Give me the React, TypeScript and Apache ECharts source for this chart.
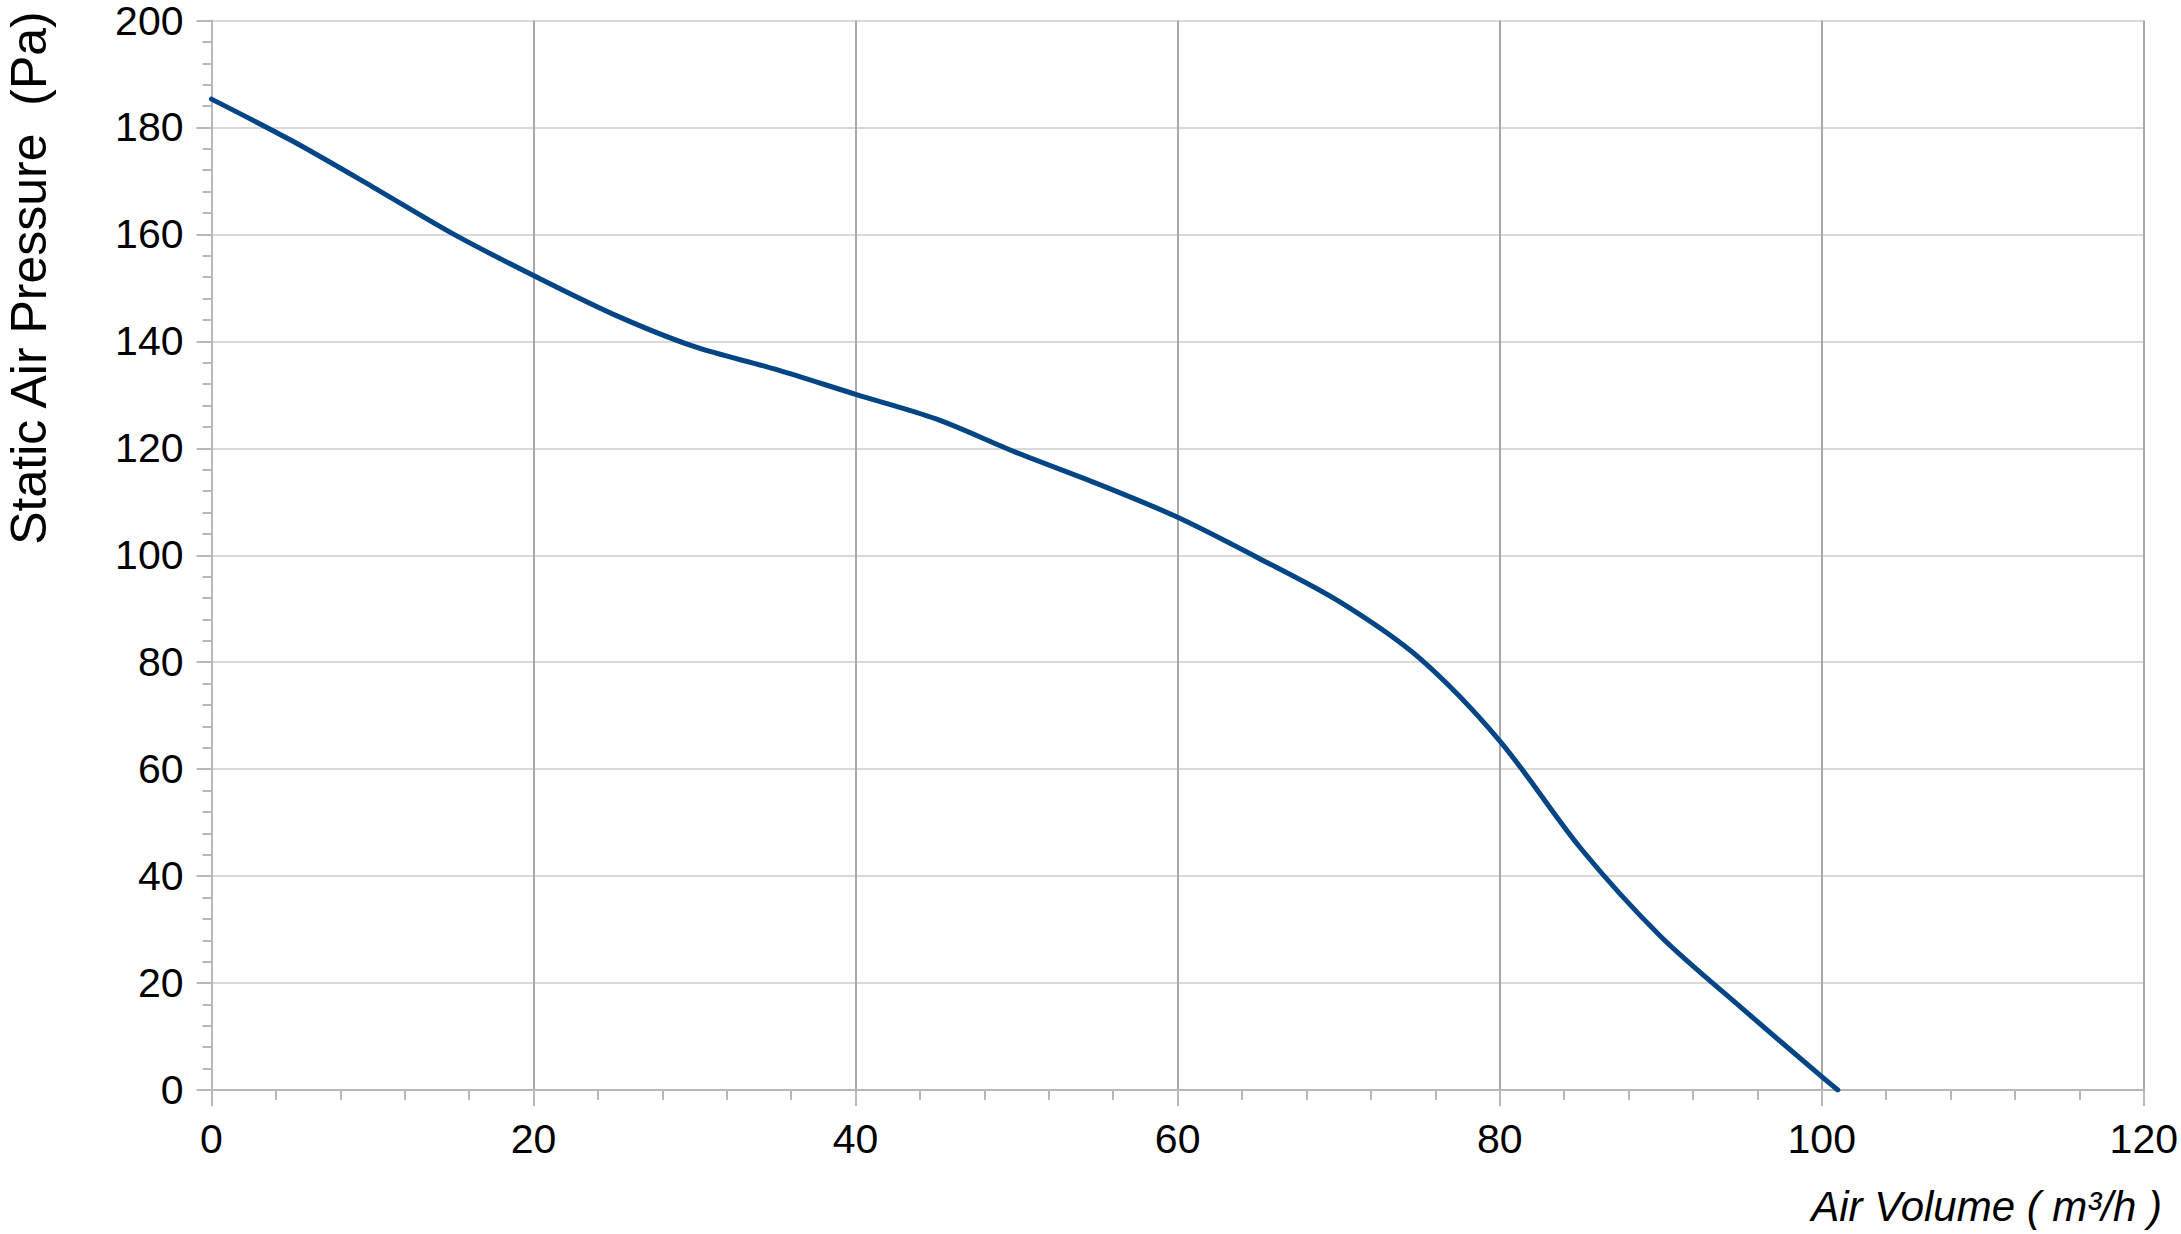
import React, { useEffect, useRef } from "react";
import * as echarts from "echarts";

const airVolume = [0, 5, 10, 15, 20, 25, 30, 35, 40, 45, 50, 55, 60, 65, 70, 75, 80, 85, 90, 95, 100, 101];
const staticPressure = [185.3, 177.5, 168.9, 160.1, 152.3, 145.0, 139.0, 134.8, 130.1, 125.5, 119.2, 113.4, 107.1, 99.5, 91.4, 80.8, 65.3, 45.3, 28.7, 15.4, 2.5, 0];

const xTitle = "Air Volume ( m³/h )";
const yTitle = "Static Air Pressure  (Pa)";

const FONT = "'Liberation Sans', Arial, sans-serif";

export default function App() {
  const ref = useRef<HTMLDivElement>(null);
  useEffect(() => {
    document.body.style.margin = "0";
    const chart = echarts.init(ref.current!, null, { renderer: "svg" });
    const axisGray = "#b8b8b8";
    chart.setOption({
      animation: false,
      backgroundColor: "#ffffff",
      grid: { left: 211.5, right: 35.5, top: 17.3, bottom: 144, containLabel: false },
      xAxis: {
        type: "value",
        min: 0,
        max: 120,
        interval: 20,
        axisLine: { show: true, onZero: false, lineStyle: { color: axisGray, width: 2 } },
        axisTick: { show: true, length: 16, lineStyle: { color: axisGray, width: 2 } },
        minorTick: { show: true, splitNumber: 5, length: 10, lineStyle: { color: axisGray, width: 2 } },
        splitLine: { show: true, showMinLine: false, lineStyle: { color: "#a8a8a8", width: 2 } },
        axisLabel: { fontSize: 41, lineHeight: 36, color: "#000", margin: 31, fontFamily: FONT },
      },
      yAxis: {
        type: "value",
        min: 0,
        max: 200,
        interval: 20,
        axisLine: { show: true, onZero: false, lineStyle: { color: axisGray, width: 2 } },
        axisTick: { show: true, length: 15, lineStyle: { color: axisGray, width: 2 } },
        minorTick: { show: true, splitNumber: 5, length: 9, lineStyle: { color: axisGray, width: 2 } },
        splitLine: { show: true, showMinLine: false, lineStyle: { color: "#d9d9d9", width: 2 } },
        axisLabel: { fontSize: 41, lineHeight: 32, color: "#000", margin: 28, fontFamily: FONT },
      },
      graphic: [
        {
          type: "text",
          x: 29,
          y: 278,
          rotation: Math.PI / 2,
          style: {
            text: yTitle,
            font: `50px ${FONT}`,
            lineHeight: 50,
            fill: "#000",
            textAlign: "center",
            textVerticalAlign: "middle",
          },
        },
        {
          type: "text",
          x: 2162,
          y: 1206,
          style: {
            text: xTitle,
            font: `italic 42px ${FONT}`,
            fill: "#000",
            textAlign: "right",
            textVerticalAlign: "middle",
          },
        },
      ],
      series: [
        {
          type: "line",
          data: airVolume.map((x, i) => [x, staticPressure[i]]),
          smooth: 0.3,
          showSymbol: false,
          symbol: "none",
          lineStyle: { color: "#004586", width: 5, cap: "round" },
          z: 5,
        },
      ],
    });
    return () => chart.dispose();
  }, []);
  return (
    <div
      ref={ref}
      style={{ position: "fixed", left: 0, top: 0, width: 2181, height: 1234 }}
    />
  );
}
